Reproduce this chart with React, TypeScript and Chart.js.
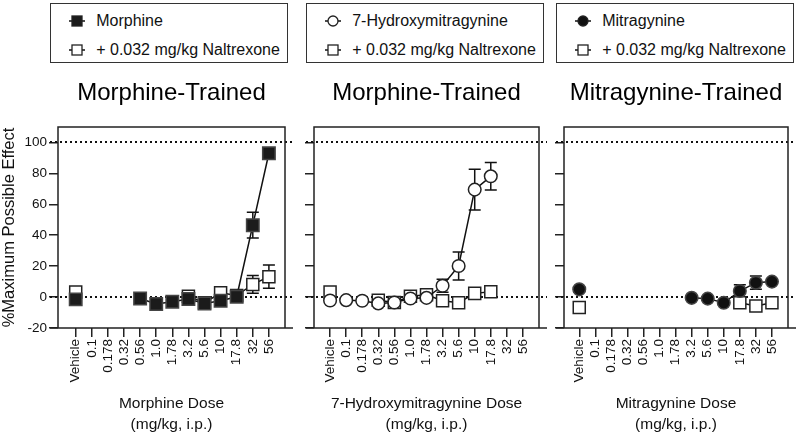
import React, { useEffect, useRef } from 'react';
import { Chart, registerables } from 'chart.js';

Chart.register(...registerables);
Chart.defaults.font.family = '"Liberation Sans", Arial, Helvetica, sans-serif';
Chart.defaults.color = '#111';

// ---------- data ----------
const doseLabels = ['Vehicle', '0.1', '0.178', '0.32', '0.56', '1.0', '1.78', '3.2', '5.6', '10', '17.8', '32', '56'];
const yTickValues = [-20, 0, 20, 40, 60, 80, 100];

// Panel 1: Morphine-trained, morphine
const morphineMPE = [-1.5, null, null, null, -0.9, -4.5, -3.0, -1.2, -4.1, -2.4, 0.2, 46.5, 93.0];
const morphineSEM = [1.5, null, null, null, 1.0, 1.5, 1.2, 1.5, 1.5, 1.5, 1.5, 8.3, 2.0];
const morphineNtxMPE = [3.3, null, null, null, null, null, null, 0.6, -3.7, 2.8, 1.0, 8.2, 13.2];
const morphineNtxSEM = [1.5, null, null, null, null, null, null, 1.5, 1.5, 1.5, 1.5, 5.8, 7.5];

// Panel 2: Morphine-trained, 7-hydroxymitragynine
const hmgMPE = [-2.2, -2.0, -2.4, -4.1, -3.5, -0.9, -0.5, 7.3, 20.1, 69.5, 78.1, null, null];
const hmgSEM = [1.5, 1.2, 1.2, 1.5, 1.5, 1.2, 1.2, 4.2, 9.0, 13.2, 8.9, null, null];
const hmgNtxMPE = [3.3, null, null, -2.0, -3.5, 0.5, 1.5, -2.4, -3.7, 2.4, 3.5, null, null];
const hmgNtxSEM = [1.5, null, null, 1.2, 1.2, 1.2, 1.2, 1.5, 1.5, 2.5, 1.5, null, null];

// Panel 3: Mitragynine-trained, mitragynine
const mitMPE = [5.0, null, null, null, null, null, null, -0.5, -1.0, -3.7, 3.9, 9.3, 10.0];
const mitSEM = [1.5, null, null, null, null, null, null, 1.0, 1.0, 1.5, 4.0, 4.3, 1.5];
const mitNtxMPE = [-6.7, null, null, null, null, null, null, null, null, null, -3.7, -5.8, -3.7];
const mitNtxSEM = [1.5, null, null, null, null, null, null, null, null, null, 1.5, 1.5, 1.5];

const FONT = '"Liberation Sans", Arial, Helvetica, sans-serif';

type Val = number | null;

const toPoints = (vals: Val[], sems: Val[]) =>
  vals
    .map((v, i) => (v === null ? null : { x: i, y: v, e: sems[i] ?? 0 }))
    .filter((p) => p !== null) as { x: number; y: number; e: number }[];

const framePlugin = {
  id: 'panelFrame',
  beforeDatasetsDraw(chart: any) {
    const { ctx, chartArea: a, scales } = chart;
    const x = scales.x;
    const y = scales.y;
    ctx.save();
    // dotted reference lines
    ctx.strokeStyle = '#111';
    ctx.lineWidth = 2;
    ctx.setLineDash([2, 3]);
    [0, 100].forEach((v) => {
      const py = Math.round(y.getPixelForValue(v));
      ctx.beginPath();
      ctx.moveTo(a.left - 8, py);
      ctx.lineTo(a.right + 8, py);
      ctx.stroke();
    });
    ctx.setLineDash([]);
    // frame
    ctx.lineWidth = 1.5;
    ctx.strokeStyle = '#222';
    ctx.beginPath();
    ctx.moveTo(a.left, a.bottom);
    ctx.lineTo(a.left, a.top);
    ctx.lineTo(a.right, a.top);
    ctx.lineTo(a.right, a.bottom);
    ctx.moveTo(a.left - 8, a.bottom);
    ctx.lineTo(a.right + 8, a.bottom);
    ctx.stroke();
    // error bars
    ctx.strokeStyle = '#111';
    ctx.lineWidth = 1.5;
    chart.data.datasets.forEach((ds: any) => {
      ds.data.forEach((p: any) => {
        if (!p.e) return;
        const px = x.getPixelForValue(p.x);
        const yt = y.getPixelForValue(p.y + p.e);
        const yb = y.getPixelForValue(p.y - p.e);
        ctx.beginPath();
        ctx.moveTo(px, yt);
        ctx.lineTo(px, yb);
        ctx.moveTo(px - 6, yt);
        ctx.lineTo(px + 6, yt);
        ctx.moveTo(px - 6, yb);
        ctx.lineTo(px + 6, yb);
        ctx.stroke();
      });
    });
    ctx.restore();
  },
};

type PanelProps = {
  left: number;
  width: number;
  padLeft: number;
  padRight: number;
  yWidth: number;
  showY: boolean;
  xMin: number;
  title: string;
  xTitle: string;
  main: Val[];
  mainSem: Val[];
  ntx: Val[];
  ntxSem: Val[];
  mainStyle: 'rect' | 'circle';
  mainFill: string;
};

const H = 363;

function Panel(p: PanelProps) {
  const ref = useRef<HTMLCanvasElement>(null);
  useEffect(() => {
    const isRect = p.mainStyle === 'rect';
    const seg = { borderColor: (c: any) => (c.p0DataIndex === 0 ? 'rgba(0,0,0,0)' : '#111') };
    const chart = new Chart(ref.current as HTMLCanvasElement, {
      type: 'scatter',
      data: {
        datasets: [
          {
            data: toPoints(p.main, p.mainSem),
            showLine: true,
            borderColor: '#111',
            borderWidth: 1.5,
            segment: seg,
            pointStyle: p.mainStyle,
            pointRadius: isRect ? 8.8 : 6.3,
            pointHoverRadius: isRect ? 8.8 : 6.3,
            pointBackgroundColor: p.mainFill,
            pointBorderColor: p.mainFill === '#ffffff' ? '#222' : '#444',
            pointBorderWidth: 1.5,
          } as any,
          {
            data: toPoints(p.ntx, p.ntxSem),
            showLine: true,
            borderColor: '#111',
            borderWidth: 1.5,
            segment: seg,
            pointStyle: 'rect',
            pointRadius: 8.5,
            pointHoverRadius: 8.5,
            pointBackgroundColor: '#ffffff',
            pointBorderColor: '#222',
            pointBorderWidth: 1.5,
          } as any,
        ],
      },
      options: {
        animation: false,
        responsive: false,
        events: [],
        layout: { padding: { left: p.padLeft, right: p.padRight, top: 0, bottom: 0 } },
        plugins: {
          legend: { display: false },
          tooltip: { enabled: false },
          title: {
            display: true,
            text: p.title,
            fullSize: false,
            color: '#000',
            font: { size: 24, weight: 'normal', family: FONT },
            padding: { top: 8.6, bottom: 19.6 },
          },
        },
        scales: {
          x: {
            type: 'linear',
            min: p.xMin,
            max: 13,
            afterBuildTicks: (s: any) => {
              s.ticks = doseLabels.map((_, i) => ({ value: i }));
            },
            afterFit: (s: any) => {
              s.height = 105;
            },
            border: { display: false },
            grid: { drawOnChartArea: false, drawTicks: true, tickLength: 9, color: '#222', lineWidth: 1.5 },
            ticks: {
              autoSkip: false,
              minRotation: 90,
              maxRotation: 90,
              padding: 2,
              color: '#111',
              font: { size: 13.5, family: FONT },
              callback: (v: any) => doseLabels[v] ?? '',
            },
            title: {
              display: true,
              text: [p.xTitle, '(mg/kg, i.p.)'],
              color: '#111',
              font: { size: 15.5, family: FONT, lineHeight: 1.35 },
              padding: { top: 0, bottom: -2 },
            },
          },
          y: {
            type: 'linear',
            min: -20,
            max: 110,
            afterBuildTicks: (s: any) => {
              s.ticks = yTickValues.map((v) => ({ value: v }));
            },
            afterFit: (s: any) => {
              s.width = p.yWidth;
            },
            border: { display: false },
            grid: { drawOnChartArea: false, drawTicks: true, tickLength: 9, color: '#222', lineWidth: 1.5 },
            ticks: { display: p.showY, padding: 2, color: '#111', font: { size: 13.5, family: FONT } },
            title: {
              display: p.showY,
              text: '%Maximum Possible Effect',
              color: '#111',
              font: { size: 16.5, family: FONT },
              padding: 0,
            },
          },
        },
      } as any,
      plugins: [framePlugin],
    });
    return () => chart.destroy();
  }, []);
  return (
    <div style={{ position: 'absolute', left: p.left, top: 70, width: p.width, height: H }}>
      <canvas ref={ref} width={p.width} height={H} style={{ width: p.width, height: H, display: 'block' }} />
    </div>
  );
}

type LegendItem = { label: string; marker: 'rect' | 'circle'; fill: string };

function Marker({ m }: { m: LegendItem }) {
  return (
    <svg width={18} height={14} style={{ position: 'absolute', left: 0, top: 0 }}>
      <line x1={1} y1={7} x2={17} y2={7} stroke="#111" strokeWidth={1.5} />
      {m.marker === 'rect' ? (
        <rect x={4} y={2} width={10} height={10} fill={m.fill} stroke="#222" strokeWidth={1.3} />
      ) : (
        <circle cx={9} cy={7} r={5} fill={m.fill} stroke="#222" strokeWidth={1.3} />
      )}
    </svg>
  );
}

function LegendBox({ left, items }: { left: number; items: LegendItem[] }) {
  return (
    <div
      style={{
        position: 'absolute',
        left,
        top: 3,
        width: 238,
        height: 60,
        border: '1.5px solid #333',
        boxSizing: 'border-box',
        fontFamily: FONT,
        fontSize: 16,
        color: '#111',
      }}
    >
      {items.map((it, i) => (
        <React.Fragment key={i}>
          <div style={{ position: 'absolute', left: 16.5, top: 10.2 + i * 28.3, width: 18, height: 14 }}>
            <Marker m={it} />
          </div>
          <span
            style={{
              position: 'absolute',
              left: 45.2,
              top: 7.2 + i * 28.3,
              lineHeight: '19px',
              whiteSpace: 'nowrap',
            }}
          >
            {it.label}
          </span>
        </React.Fragment>
      ))}
    </div>
  );
}

const ntxLabel = '+ 0.032 mg/kg Naltrexone';

export default function App() {
  return (
    <div style={{ position: 'absolute', left: 0, top: 0, width: 799, height: 433, overflow: 'hidden', background: '#fff' }}>
      <LegendBox
        left={50}
        items={[
          { label: 'Morphine', marker: 'rect', fill: '#1b1b1b' },
          { label: ntxLabel, marker: 'rect', fill: '#fff' },
        ]}
      />
      <LegendBox
        left={306}
        items={[
          { label: '7-Hydroxymitragynine', marker: 'circle', fill: '#fff' },
          { label: ntxLabel, marker: 'rect', fill: '#fff' },
        ]}
      />
      <LegendBox
        left={556}
        items={[
          { label: 'Mitragynine', marker: 'circle', fill: '#111' },
          { label: ntxLabel, marker: 'rect', fill: '#fff' },
        ]}
      />
      <Panel
        left={0}
        width={300}
        padLeft={0}
        padRight={15}
        yWidth={58}
        showY={true}
        xMin={-1.1}
        title="Morphine-Trained"
        xTitle="Morphine Dose"
        main={morphineMPE}
        mainSem={morphineSEM}
        ntx={morphineNtxMPE}
        ntxSem={morphineNtxSEM}
        mainStyle="rect"
        mainFill="#1b1b1b"
      />
      <Panel
        left={300}
        width={255}
        padLeft={5}
        padRight={16}
        yWidth={9}
        showY={false}
        xMin={-1}
        title="Morphine-Trained"
        xTitle="7-Hydroxymitragynine Dose"
        main={hmgMPE}
        mainSem={hmgSEM}
        ntx={hmgNtxMPE}
        ntxSem={hmgNtxSEM}
        mainStyle="circle"
        mainFill="#ffffff"
      />
      <Panel
        left={550}
        width={249}
        padLeft={5}
        padRight={11}
        yWidth={9}
        showY={false}
        xMin={-0.95}
        title="Mitragynine-Trained"
        xTitle="Mitragynine Dose"
        main={mitMPE}
        mainSem={mitSEM}
        ntx={mitNtxMPE}
        ntxSem={mitNtxSEM}
        mainStyle="circle"
        mainFill="#111111"
      />
    </div>
  );
}
